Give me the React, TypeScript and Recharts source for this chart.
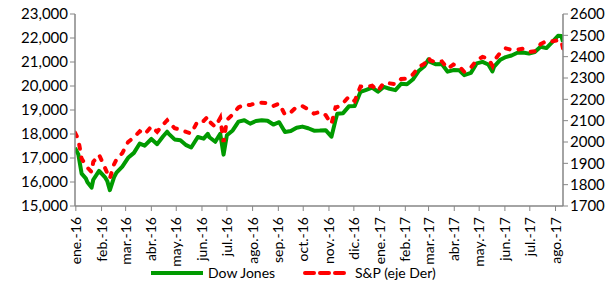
import React from 'react';
import { LineChart, Line, XAxis, YAxis, Legend } from 'recharts';

// weekly-ish closes, read off the reference
const dates = [
  '2015-12-31', '2016-01-04', '2016-01-08', '2016-01-13', '2016-01-15', '2016-01-20', '2016-01-22', '2016-01-29',
  '2016-02-05', '2016-02-08', '2016-02-11', '2016-02-16', '2016-02-19', '2016-02-26', '2016-03-04', '2016-03-11',
  '2016-03-18', '2016-03-24', '2016-04-01', '2016-04-08', '2016-04-15', '2016-04-20', '2016-04-22', '2016-04-29',
  '2016-05-06', '2016-05-13', '2016-05-19', '2016-05-27', '2016-06-03', '2016-06-08', '2016-06-10', '2016-06-17',
  '2016-06-23', '2016-06-27', '2016-07-01', '2016-07-08', '2016-07-15', '2016-07-22', '2016-07-29', '2016-08-05',
  '2016-08-12', '2016-08-19', '2016-08-26', '2016-09-02', '2016-09-09', '2016-09-16', '2016-09-23', '2016-09-30',
  '2016-10-07', '2016-10-14', '2016-10-21', '2016-10-28', '2016-11-04', '2016-11-09', '2016-11-11', '2016-11-18',
  '2016-11-25', '2016-12-02', '2016-12-09', '2016-12-16', '2016-12-23', '2016-12-30', '2017-01-06', '2017-01-13',
  '2017-01-20', '2017-01-27', '2017-02-03', '2017-02-10', '2017-02-17', '2017-02-24', '2017-03-01', '2017-03-03',
  '2017-03-10', '2017-03-17', '2017-03-24', '2017-03-31', '2017-04-07', '2017-04-13', '2017-04-21', '2017-04-28',
  '2017-05-05', '2017-05-12', '2017-05-17', '2017-05-19', '2017-05-26', '2017-06-02', '2017-06-09', '2017-06-16',
  '2017-06-23', '2017-06-30', '2017-07-07', '2017-07-14', '2017-07-21', '2017-07-28', '2017-08-04', '2017-08-08',
  '2017-08-10',
];

const dowJones = [
  17425, 17149, 16347, 16151, 15988, 15766, 16094, 16466,
  16205, 16027, 15660, 16196, 16392, 16640, 17007, 17213,
  17602, 17516, 17793, 17577, 17897, 18096, 18004, 17774,
  17740, 17535, 17436, 17873, 17807, 18005, 17865, 17675,
  18011, 17140, 17949, 18147, 18516, 18570, 18432, 18543,
  18576, 18552, 18395, 18492, 18085, 18123, 18261, 18308,
  18240, 18138, 18146, 18161, 17888, 18589, 18847, 18868,
  19152, 19171, 19757, 19843, 19934, 19763, 19964, 19886,
  19827, 20094, 20071, 20269, 20624, 20821, 21115, 21006,
  20903, 20915, 20597, 20663, 20656, 20453, 20548, 20941,
  21007, 20897, 20607, 20805, 21080, 21206, 21272, 21384,
  21395, 21350, 21414, 21638, 21580, 21830, 22093, 22085,
  21844,
];

const sp500 = [
  2044, 2012, 1922, 1890, 1880, 1859, 1907, 1940,
  1880, 1853, 1829, 1895, 1918, 1948, 2000, 2022,
  2050, 2036, 2073, 2048, 2081, 2102, 2092, 2065,
  2058, 2047, 2040, 2099, 2099, 2119, 2096, 2071,
  2113, 2000, 2103, 2130, 2162, 2175, 2173, 2183,
  2184, 2183, 2169, 2180, 2128, 2139, 2165, 2168,
  2153, 2133, 2141, 2126, 2085, 2163, 2164, 2182,
  2213, 2192, 2260, 2258, 2264, 2239, 2277, 2275,
  2271, 2295, 2297, 2316, 2351, 2367, 2396, 2383,
  2373, 2378, 2344, 2363, 2355, 2329, 2349, 2384,
  2399, 2391, 2357, 2382, 2416, 2439, 2432, 2433,
  2438, 2423, 2425, 2459, 2473, 2472, 2477, 2475,
  2438,
];

const monthNames = ['ene.', 'feb.', 'mar.', 'abr.', 'may.', 'jun.', 'jul.', 'ago.', 'sep.', 'oct.', 'nov.', 'dic.'];
const monthTicks = [
  '2016-01-01', '2016-02-01', '2016-03-01', '2016-04-01', '2016-05-01', '2016-06-01', '2016-07-01',
  '2016-08-01', '2016-09-01', '2016-10-01', '2016-11-01', '2016-12-01', '2017-01-01', '2017-02-01',
  '2017-03-01', '2017-04-01', '2017-05-01', '2017-06-01', '2017-07-01', '2017-08-01',
];
const leftTicks = [15000, 16000, 17000, 18000, 19000, 20000, 21000, 22000, 23000];
const rightTicks = [1700, 1800, 1900, 2000, 2100, 2200, 2300, 2400, 2500, 2600];

const base = Date.UTC(2016, 0, 1);
const dayNum = (s: string) => {
  const [y, m, d] = s.split('-').map(Number);
  return Math.round((Date.UTC(y, m - 1, d) - base) / 86400000);
};

const data = dates.map((d, i) => ({ t: dayNum(d), dow: dowJones[i], sp: sp500[i] }));
const tickDays = monthTicks.map(dayNum);

const FONT = 'Lato, "Open Sans", sans-serif';
const AXIS = '#868686';
const GREEN = '#009A00';
const RED = '#FF0000';

const fmtThousands = (v: number) => v.toLocaleString('en-US');

const MonthTick = (props: any) => {
  const { x, y, payload } = props;
  const idx = tickDays.indexOf(payload.value);
  const [yy, mm] = monthTicks[idx].split('-');
  const label = `${monthNames[Number(mm) - 1]}-${yy.slice(2)}`;
  return (
    <text
      x={x + 5}
      y={y + 4}
      transform={`rotate(-90, ${x + 5}, ${y + 4})`}
      textAnchor="end"
      fontSize={14}
      fontFamily={FONT}
      fill="#000"
    >
      {label}
    </text>
  );
};

const LegendContent = () => (
  <div style={{ position: 'relative', width: 616, height: 16, fontFamily: FONT, fontSize: 14, color: '#000' }}>
    <svg style={{ position: 'absolute', left: 151, top: 4 }} width={54} height={8}>
      <line x1={0} y1={4} x2={52} y2={4} stroke={GREEN} strokeWidth={4} />
    </svg>
    <span style={{ position: 'absolute', left: 208, top: -1, whiteSpace: 'nowrap' }}>Dow Jones</span>
    <svg style={{ position: 'absolute', left: 303, top: 4 }} width={46} height={8}>
      <line x1={2} y1={4} x2={44} y2={4} stroke={RED} strokeWidth={4} strokeDasharray="9 6" strokeLinecap="round" />
    </svg>
    <span style={{ position: 'absolute', left: 355, top: -1, whiteSpace: 'nowrap' }}>S&amp;P (eje Der)</span>
  </div>
);

export default function App() {
  return (
    <div style={{ position: 'absolute', left: 0, top: 0, width: 616, height: 281, background: '#fff' }}>
      <LineChart width={616} height={281} data={data} margin={{ top: 14, right: 0, left: 0, bottom: 0 }}>
        <XAxis
          dataKey="t"
          type="number"
          domain={[-1, 587]}
          ticks={tickDays}
          interval={0}
          tick={<MonthTick />}
          tickLine={{ stroke: AXIS }}
          tickSize={5}
          axisLine={{ stroke: AXIS, strokeWidth: 1.5 }}
          height={59}
          allowDataOverflow
        />
        <YAxis
          yAxisId="left"
          orientation="left"
          width={75}
          domain={[15000, 23000]}
          ticks={leftTicks}
          interval={0}
          tickFormatter={fmtThousands}
          tick={{ fontSize: 15, fontFamily: FONT, fill: '#000' }}
          tickLine={{ stroke: AXIS }}
          tickSize={5}
          axisLine={{ stroke: AXIS, strokeWidth: 1.5 }}
        />
        <YAxis
          yAxisId="right"
          orientation="right"
          width={53}
          domain={[1700, 2600]}
          ticks={rightTicks}
          interval={0}
          tick={{ fontSize: 15, fontFamily: FONT, fill: '#000' }}
          tickLine={{ stroke: AXIS }}
          tickSize={5}
          axisLine={{ stroke: AXIS, strokeWidth: 1.5 }}
        />
        <Legend verticalAlign="bottom" height={16} width={616} wrapperStyle={{ left: 0 }} content={<LegendContent />} />
        <Line
          yAxisId="left"
          dataKey="dow"
          name="Dow Jones"
          stroke={GREEN}
          strokeWidth={4}
          dot={false}
          type="linear"
          strokeLinejoin="round"
          isAnimationActive={false}
        />
        <Line
          yAxisId="right"
          dataKey="sp"
          name="S&P (eje Der)"
          stroke={RED}
          strokeWidth={4}
          strokeDasharray="4 9"
          strokeLinecap="round"
          dot={false}
          type="linear"
          isAnimationActive={false}
        />
      </LineChart>
    </div>
  );
}
